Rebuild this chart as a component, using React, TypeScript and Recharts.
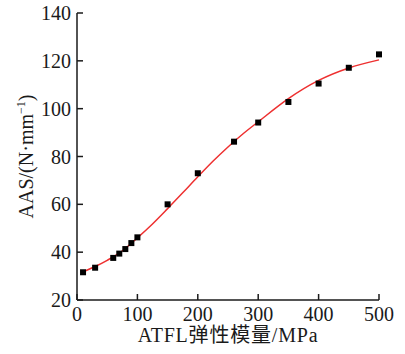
import React from "react";
import { ComposedChart, Line, Scatter, XAxis, YAxis, Label } from "recharts";

const pointX = [10, 30, 60, 70, 80, 90, 100, 150, 200, 260, 300, 350, 400, 450, 500];
const pointY = [31.6, 33.5, 37.6, 39.4, 41.3, 43.8, 46.2, 60.0, 73.0, 86.2, 94.2, 102.8, 110.5, 117.1, 122.7];

const fitX = [10, 30, 50, 70, 100, 125, 150, 175, 200, 225, 250, 275, 300, 350, 400, 450, 500];
const fitY = [31.8, 34.0, 36.6, 39.6, 46.0, 51.8, 58.2, 64.8, 71.5, 78.0, 84.0, 89.5, 94.5, 104.2, 111.8, 117.0, 120.4];

const xTicks = [0, 100, 200, 300, 400, 500];
const yTicks = [20, 40, 60, 80, 100, 120, 140];

const points = pointX.map((x, i) => ({ x, y: pointY[i] }));
const fit = fitX.map((x, i) => ({ x, y: fitY[i] }));

const FONT = "'Liberation Serif', 'Times New Roman', 'Noto Sans CJK SC', serif";
const AXIS = "#1a1a1a";

const Square = (props: any) => {
  const { cx, cy } = props;
  if (cx == null || cy == null) return null;
  return <rect x={cx - 3} y={cy - 3} width={6} height={6} fill="#000" />;
};

const YTitle = (props: any) => {
  const vb = props.viewBox || {};
  const cx = (vb.x ?? 0) + 33;
  const cy = (vb.y ?? 0) + (vb.height ?? 0) / 2;
  return (
    <text
      x={0}
      y={0}
      transform={`translate(${cx},${cy}) rotate(-90)`}
      textAnchor="middle"
      fontFamily={FONT}
      fontSize={20}
      fill="#1a1a1a"
    >
      AAS/(N·mm
      <tspan dy={-8} fontSize={12}>−1</tspan>
      <tspan dy={8}>)</tspan>
    </text>
  );
};

const XTitle = (props: any) => {
  const vb = props.viewBox || {};
  const cx = (vb.x ?? 0) + (vb.width ?? 0) / 2;
  const y = (vb.y ?? 0) + 42;
  return (
    <text
      x={cx}
      y={y}
      textAnchor="middle"
      fontFamily={FONT}
      fontSize={20}
      letterSpacing={0.8}
      fill="#1a1a1a"
    >
      ATFL弹性模量/MPa
    </text>
  );
};

export default function App() {
  return (
    <div style={{ position: "absolute", left: 0, top: 0, background: "#fff" }}>
      <ComposedChart
        width={405}
        height={354}
        margin={{ top: 13, right: 26, left: 0, bottom: 0 }}
      >
        <XAxis
          dataKey="x"
          type="number"
          domain={[0, 500]}
          ticks={xTicks}
          tickSize={-6}
          tickMargin={13}
          height={54}
          stroke={AXIS}
          strokeWidth={1.5}
          tick={{ fill: "#1a1a1a", fontSize: 20, fontFamily: FONT }}
          interval={0}
        >
          <Label content={<XTitle />} />
        </XAxis>
        <YAxis
          type="number"
          domain={[20, 140]}
          ticks={yTicks}
          tickSize={-6}
          tickMargin={12}
          width={77}
          stroke={AXIS}
          strokeWidth={1.5}
          tick={{ fill: "#1a1a1a", fontSize: 20, fontFamily: FONT }}
          interval={0}
        >
          <Label content={<YTitle />} />
        </YAxis>
        <Line
          data={fit}
          dataKey="y"
          type="monotone"
          stroke="#ee3030"
          strokeWidth={1.5}
          dot={false}
          isAnimationActive={false}
        />
        <Scatter data={points} dataKey="y" shape={<Square />} isAnimationActive={false} />
      </ComposedChart>
    </div>
  );
}
